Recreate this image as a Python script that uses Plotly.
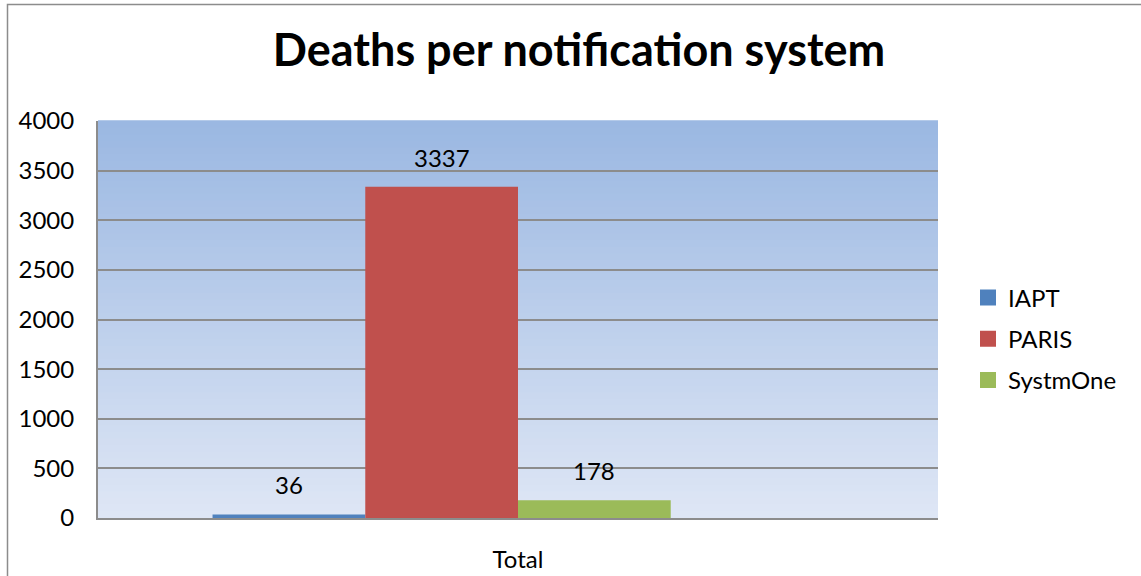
import plotly.graph_objects as go

categories = ["Total"]
series_names = ["IAPT", "PARIS", "SystmOne"]
series_values = [[36], [3337], [178]]
series_colors = ["#4F81BD", "#C0504D", "#9BBB59"]
y_ticks = [0, 500, 1000, 1500, 2000, 2500, 3000, 3500, 4000]

W, H = 1141, 576
ML, MR, MT, MB = 98, 203, 121, 58
PW = W - ML - MR
PH = H - MT - MB
N_SLOTS = 4          # the source chart reserves a slot for an empty 4th series
BARGAP = 1.5 / (N_SLOTS + 1.5)
FONT = "Lato, Carlito, Calibri, sans-serif"
FS = 24

fig = go.Figure()
for i, (name, vals, col) in enumerate(zip(series_names, series_values, series_colors)):
    fig.add_trace(go.Bar(
        x=categories, y=vals, name=name, marker=dict(color=col, line=dict(width=0)),
        legendgroup=name, showlegend=False,
    ))
# empty placeholder series (keeps the original group layout)
fig.add_trace(go.Bar(x=categories, y=[None], name="", showlegend=False, hoverinfo="skip"))

# legend entries with larger square swatches
for name, col in zip(series_names, series_colors):
    fig.add_trace(go.Scatter(
        x=[None], y=[None], mode="markers", name=name, legendgroup=name,
        marker=dict(symbol="square", size=16, color=col, line=dict(width=0)),
        showlegend=True, hoverinfo="skip",
    ))

# data labels
bar_px = PW * (1 - BARGAP) / N_SLOTS
annotations = []
for i, vals in enumerate(series_values):
    for c, v in zip(categories, vals):
        annotations.append(dict(
            x=c, y=v, xref="x", yref="y", text=str(v), showarrow=False,
            xshift=(i - (N_SLOTS - 1) / 2) * bar_px,
            yanchor="bottom", yshift=13,
            font=dict(family=FONT, size=FS, color="#000000"),
        ))

# gradient background bands
shapes = []
n = 60
top = (155, 184, 226)
bot = (222, 230, 245)
for k in range(n):
    t = k / (n - 1)
    col = tuple(round(bot[j] + (top[j] - bot[j]) * t) for j in range(3))
    shapes.append(dict(
        type="rect", xref="paper", yref="paper", x0=0, x1=1,
        y0=k / n, y1=(k + 1) / n + 0.002, layer="below",
        fillcolor="rgb(%d,%d,%d)" % col, line=dict(width=0),
    ))
# outer chart border (right and bottom edges fall outside the image)
shapes.append(dict(
    type="rect", xref="paper", yref="paper",
    x0=(7.5 - ML) / PW, x1=(W + 30 - ML) / PW,
    y0=(PH + MT - (H + 30)) / PH, y1=(PH + MT - 4.5) / PH,
    line=dict(color="#8C8C8C", width=1.5), fillcolor="rgba(0,0,0,0)", layer="above",
))

fig.update_layout(
    width=W, height=H,
    margin=dict(l=ML, r=MR, t=MT, b=MB, autoexpand=False),
    paper_bgcolor="white", plot_bgcolor="rgba(0,0,0,0)",
    barmode="group", bargap=BARGAP, bargroupgap=0,
    title=dict(text="<b>Deaths per notification system</b>", x=579 / W, xref="container",
               xanchor="center", y=1 - 50 / H, yref="container", yanchor="middle",
               font=dict(family=FONT, size=45, color="#000000")),
    font=dict(family=FONT, size=FS, color="#000000"),
    legend=dict(x=(968 - ML) / PW, xanchor="left", y=(518 - 339) / PH, yanchor="middle",
                font=dict(family=FONT, size=FS, color="#000000"),
                tracegroupgap=7, traceorder="grouped", bgcolor="rgba(0,0,0,0)",
                itemsizing="trace"),
    shapes=shapes, annotations=annotations,
    showlegend=True,
)
fig.update_xaxes(showline=True, linecolor="#8C8C8C", linewidth=2, showgrid=False,
                 ticks="", ticklabelstandoff=19, tickfont=dict(size=FS))
fig.update_yaxes(range=[0, 4000], tickvals=y_ticks, showline=True, linecolor="#8C8C8C",
                 linewidth=2, showgrid=True, gridcolor="#8C8C8C", gridwidth=2,
                 zeroline=False, ticks="", ticklabelstandoff=17, tickfont=dict(size=FS))

fig.write_html("out.html")
